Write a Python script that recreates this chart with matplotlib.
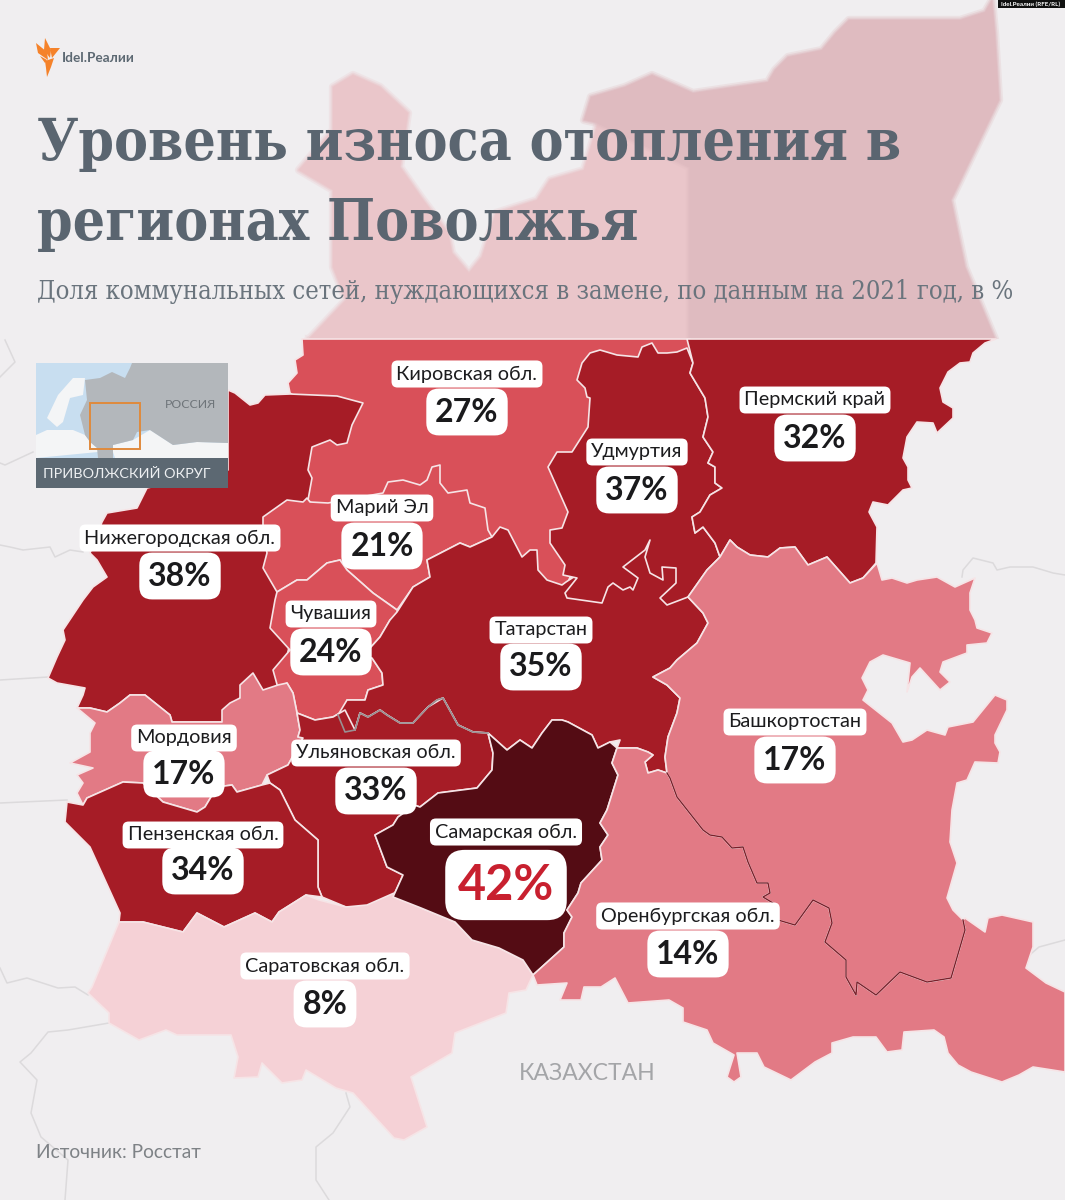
import matplotlib
matplotlib.use("Agg")
import matplotlib.pyplot as plt
from matplotlib.colors import ListedColormap, BoundaryNorm
from matplotlib.patches import Rectangle

# ---------- data ----------
REGION_NAMES = ["Кировская обл.", "Пермский край", "Удмуртия", "Марий Эл", "Нижегородская обл.",
                "Чувашия", "Татарстан", "Мордовия", "Башкортостан", "Ульяновская обл.",
                "Пензенская обл.", "Самарская обл.", "Оренбургская обл.", "Саратовская обл."]
REGION_VALUES = [27, 32, 37, 21, 38, 24, 35, 17, 17, 33, 34, 42, 14, 8]
BIN_EDGES = [0, 10, 20, 30, 40, 50]
BIN_COLORS = ["#F5D1D6", "#E27A85", "#D95059", "#A61C26", "#540C14"]

TITLE_LINES = ["Уровень износа отопления в", "регионах Поволжья"]
SUBTITLE = "Доля коммунальных сетей, нуждающихся в замене, по данным на 2021 год, в %"
SOURCE = "Источник: Росстат"

# ---------- map geometry (outline traced in image pixels) ----------
KIROV = [(302,339),(690,339),(690,400),(600,500),(565,590),(500,590),(400,560),(300,520),(300,400),
         (290,393),(288,383),(297,373),(295,360),(303,355)]
NIZHNY = [(228,390),(235,393),(250,405),(258,403),(265,395),(290,394),(337,396),(363,403),(352,425),
          (347,443),(337,445),(330,440),(312,447),(308,470),(312,478),(308,500),(320,510),(270,560),
          (290,642),(280,690),(263,690),(240,698),(222,722),(172,722),(170,715),(145,695),(130,695),
          (120,703),(107,712),(90,708),(77,708),(83,695),(85,688),(57,683),(48,678),(57,657),(65,640),
          (63,630),(83,600),(93,587),(107,577),(97,560),(90,553),(102,522),(107,513),(137,508),
          (147,488),(228,470)]
MARI = [(263,517),(287,500),(303,502),(307,498),(310,502),(328,503),(383,493),(388,482),(403,480),
        (420,485),(427,480),(432,467),(440,465),(440,483),(448,493),(467,490),(470,503),(485,508),
        (488,530),(492,537),(470,547),(460,543),(427,560),(430,577),(413,587),(397,610),(393,607),
        (373,593),(347,570),(340,560),(327,563),(307,580),(297,580),(277,592),(263,568),(267,553),(263,530)]
CHUVASH = [(277,592),(297,580),(307,580),(327,563),(340,560),(347,570),(373,593),(397,610),(398,615),
           (390,620),(380,637),(362,657),(372,658),(382,673),(383,685),(368,690),(365,700),(347,700),
           (345,710),(333,717),(315,720),(297,713),(293,693),(287,683),(278,688),(273,670),(290,650),
           (270,628),(275,600)]
TATAR = [(397,612),(413,587),(430,577),(427,560),(460,543),(470,547),(492,537),(500,527),(508,530),
         (522,557),(530,550),(537,550),(538,570),(547,580),(562,585),(566,582),(600,560),(640,530),(685,550),
         (688,597),(703,613),(708,623),(697,643),(677,660),(670,668),(653,677),(667,685),(680,698),
         (677,713),(668,737),(665,757),(667,773),(658,770),(648,773),(645,762),(653,755),(648,752),
         (637,748),(617,748),(620,740),(610,742),(598,748),(592,735),(568,722),(562,720),(552,720),
         (542,733),(532,748),(520,740),(507,750),(488,733),(473,732),(458,725),(443,698),(437,700),
         (428,707),(413,723),(400,723),(387,715),(380,710),(368,717),(360,713),(355,730),(345,732),
         (338,715),(347,700),(365,700),(368,690),(383,685),(382,673),(372,658),(362,657),(380,637),(390,620)]
UDMURT = [(687,348),(677,352),(667,353),(658,353),(652,343),(642,347),(638,357),(617,355),(600,350),
          (590,353),(582,363),(577,380),(585,388),(587,397),(590,398),(588,427),(572,452),(557,452),
          (548,467),(568,512),(562,528),(550,530),(550,543),(565,565),(563,575),(577,578),(565,593),
          (567,598),(602,603),(608,587),(613,583),(623,590),(630,587),(633,590),(638,578),(623,567),
          (645,550),(650,540),(645,557),(650,573),(663,580),(662,567),(676,568),(676,583),(660,598),
          (667,605),(688,597),(707,570),(720,557),(715,543),(703,527),(695,533),(692,517),(700,512),
          (710,495),(722,488),(715,483),(715,467),(708,463),(713,452),(703,437),(708,417),(705,398),
          (690,373),(693,363)]
PERM = [(687,339),(996,339),(985,343),(973,353),(970,362),(960,363),(948,372),(940,388),(943,402),
        (953,408),(953,418),(937,433),(933,423),(917,422),(907,437),(903,458),(908,467),(908,480),
        (912,488),(903,490),(888,505),(873,502),(869,512),(877,527),(876,563),(863,578),(850,583),
        (827,557),(808,565),(795,547),(780,548),(768,557),(750,555),(737,547),(730,540),(720,557),
        (715,543),(703,527),(695,533),(692,517),(700,512),(710,495),(722,488),(715,483),(715,467),
        (708,463),(713,452),(703,437),(708,417),(705,398),(690,373),(693,363)]
MORDOVIA = [(77,708),(90,708),(107,712),(120,703),(130,695),(145,695),(170,715),(172,722),(222,722),
            (222,710),(230,703),(240,698),(240,685),(253,673),(263,690),(278,685),(287,683),(293,693),
            (297,713),(300,730),(298,737),(303,738),(288,765),(267,775),(262,785),(237,792),(232,785),
            (217,787),(205,807),(197,812),(163,802),(143,783),(123,782),(87,798),(83,805),(77,793),
            (83,783),(77,775),(93,768),(70,763),(90,752),(90,733),(95,723)]
ULYAN = [(297,713),(315,720),(333,717),(345,710),(355,730),(360,713),(368,717),(380,710),(387,715),
         (400,723),(413,723),(428,707),(443,698),(458,725),(473,732),(488,733),(493,753),(492,770),
         (477,788),(438,793),(420,807),(405,802),(408,810),(398,817),(393,825),(375,835),(387,867),
         (403,875),(393,897),(377,907),(346,907),(322,897),(318,887),(318,840),(295,820),(280,790),
         (270,783),(267,775),(288,765),(303,738),(298,737),(300,730)]
PENZA = [(67,802),(65,822),(90,847),(120,913),(119,922),(143,922),(183,932),(197,913),(224,927),
         (255,913),(272,922),(279,912),(306,895),(322,897),(318,887),(318,840),(295,820),(280,790),
         (270,783),(262,785),(237,792),(232,785),(217,787),(205,807),(197,812),(163,802),(143,783),
         (123,782),(87,798),(83,805)]
SARATOV = [(119,922),(92,987),(88,993),(109,1013),(109,1023),(139,1040),(166,1030),(177,1035),(231,1035),
           (238,1057),(234,1078),(258,1077),(262,1063),(282,1083),(302,1080),(306,1070),(336,1088),
           (353,1093),(394,1138),(404,1140),(427,1127),(411,1077),(452,1053),(455,1033),(506,1013),
           (509,993),(526,990),(533,975),(523,960),(499,948),(472,940),(455,922),(421,908),(401,890),
           (367,905),(346,907),(319,900),(306,895),(279,912),(272,922),(255,913),(224,927),(197,913),
           (183,932),(143,922)]
SAMARA = [(488,733),(507,750),(520,740),(532,748),(542,733),(552,720),(562,720),(568,722),(592,735),
          (598,748),(610,742),(617,748),(612,763),(618,775),(607,810),(600,823),(608,835),(600,847),
          (602,860),(581,883),(578,893),(567,910),(572,917),(564,933),(564,947),(533,975),(523,960),
          (499,948),(472,940),(455,922),(421,908),(393,897),(403,875),(387,867),(375,835),(393,825),
          (398,817),(408,810),(405,802),(420,807),(438,793),(477,788),(492,770),(493,753)]
ORB_BASH_BORDER = [(667,773),(670,778),(677,797),(703,830),(710,835),(722,837),(732,848),(743,847),
                   (748,862),(757,883),(768,883),(770,893),(763,897),(773,903),(778,920),(795,925),
                   (813,900),(829,908),(832,923),(825,942),(846,960),(846,977),(856,995),(857,982),
                   (876,995),(900,972),(927,982),(951,978),(965,930),(963,920)]
ORENBURG_REST = [(965,918),(985,932),(988,918),(1002,915),(1033,922),(1033,947),(1026,968),(1046,983),
                 (1065,992),(1065,1072),(1033,1067),(1019,1075),(1002,1082),(971,1072),(958,1065),
                 (948,1053),(944,1037),(934,1030),(904,1032),(902,1050),(887,1052),(876,1037),(853,1037),
                 (832,1043),(832,1053),(815,1062),(791,1080),(764,1067),(757,1053),(737,1053),(741,1077),
                 (734,1082),(727,1077),(734,1055),(713,1043),(707,1030),(683,1022),(683,1008),(669,1000),
                 (628,1003),(615,978),(601,987),(584,987),(581,1000),(560,1000),(567,983),(537,985),(533,975),
                 (564,947),(564,933),(572,917),(567,910),(578,893),(581,883),(602,860),(600,847),(608,835),
                 (600,823),(607,810),(618,775),(612,763),(617,748),(637,748),(648,752),(653,755),(645,762),
                 (648,773),(658,770)]
BASH_REST = [(953,910),(947,898),(957,863),(950,842),(952,810),(957,783),(967,780),(975,762),(998,763),
             (1000,752),(995,743),(995,735),(1007,710),(1007,700),(995,695),(973,722),(948,727),(945,735),
             (927,730),(912,740),(903,742),(892,723),(863,700),(868,690),(862,678),(870,662),(883,655),
             (910,663),(907,692),(912,677),(920,668),(940,690),(950,682),(940,672),(943,662),(967,653),
             (967,645),(987,643),(992,633),(977,628),(975,620),(970,610),(970,593),(975,578),(955,587),
             (937,577),(917,580),(907,583),(892,578),(882,580),(877,563),(863,578),(850,583),(827,557),
             (808,565),(795,547),(780,548),(768,557),(750,555),(737,547),(730,540),(720,557),(707,570),
             (688,597),(703,613),(708,623),(697,643),(677,660),(670,668),(653,677),(667,685),(680,698),
             (677,713),(668,737),(665,757)]
ORENBURG = ORB_BASH_BORDER + ORENBURG_REST
BASHKIR = ORB_BASH_BORDER + BASH_REST
SHAPES = {"Кировская обл.": KIROV, "Нижегородская обл.": NIZHNY, "Марий Эл": MARI, "Чувашия": CHUVASH,
          "Татарстан": TATAR, "Удмуртия": UDMURT, "Пермский край": PERM, "Мордовия": MORDOVIA,
          "Ульяновская обл.": ULYAN, "Пензенская обл.": PENZA, "Саратовская обл.": SARATOV,
          "Самарская обл.": SAMARA, "Оренбургская обл.": ORENBURG, "Башкортостан": BASHKIR}
DRAW_ORDER = ["Кировская обл.", "Нижегородская обл.", "Марий Эл", "Чувашия", "Татарстан", "Удмуртия",
              "Пермский край", "Мордовия", "Ульяновская обл.", "Пензенская обл.", "Саратовская обл.",
              "Самарская обл.", "Оренбургская обл.", "Башкортостан"]
GRAY_BORDER = [(338,715),(345,732),(355,730),(360,713),(368,717),(380,710),(387,715),(400,723),(413,723),
               (428,707),(437,700),(443,698),(458,725),(473,732),(488,733)]
FADED_KIROV = [(309,339),(346,300),(333,267),(333,190),(299,170),(333,130),(333,87),(353,75),(380,87),
               (408,113),(400,167),(421,197),(448,233),(452,253),(469,273),(482,257),(496,213),(537,200),
               (550,180),(584,170),(598,123),(690,167),(690,339)]
FADED_PERM = [(690,339),(690,167),(598,123),(584,120),(591,97),(625,87),(652,75),(693,93),(768,82),
              (775,70),(788,57),(822,50),(836,33),(849,20),(960,20),(985,12),(992,0),(995,33),(999,100),
              (951,200),(965,267),(995,339)]
BACK_LINES = [
    [(5,340),(15,362),(0,377)], [(0,463),(5,465),(33,452)],
    [(0,545),(10,547),(23,550),(50,547),(55,557),(70,550),(83,552)],
    [(0,680),(48,677)], [(0,803),(67,800)],
    [(0,968),(7,983),(27,978),(58,988),(75,987),(88,995)],
    [(109,1023),(68,1030),(48,1032),(31,1053),(20,1062),(37,1080),(31,1113),(41,1137),(68,1160),(65,1200)],
    [(346,1093),(350,1107),(333,1133),(316,1147),(316,1180),(329,1200)],
    [(1065,940),(1039,947),(1026,958)],
    [(962,577),(963,570),(973,558),(993,563),(997,570),(1010,567),(1033,567),(1053,573),(1065,575)],
]
# inset locator
INSET_RUSSIA = [(85,380),(100,378),(112,372),(125,378),(130,368),(132,363),(228,363),(228,443),(197,442),
                (173,445),(150,430),(137,432),(133,440),(113,445),(113,458),(98,458),(97,448),(90,442),
                (85,435),(80,415),(87,400)]
INSET_SCAND = [(47,418),(58,395),(73,378),(85,378),(83,395),(70,398),(63,422),(57,427)]
INSET_EUROPE = [(36,435),(47,430),(73,430),(85,435),(97,448),(98,452),(36,458)]
INSET_SOUTH = [(97,452),(97,448),(113,445),(133,440),(150,430),(173,445),(197,442),(228,443),(228,458),(115,458),(113,452)]
# logo
LOGO_PARTS = [[(45,38),(51,50),(50,58),(44,50)], [(36,43),(47,52),(48,60),(38,53)],
              [(40,56),(47,60),(45,63)], [(50,48),(60,48),(52,58)],
              [(45,61),(54,58),(51,67),(47,77),(46,68)]]

# ---------- figure ----------
W, H = 1065, 1200
BG = "#F0EEF0"
SANS = ["Lato", "DejaVu Sans"]
plt.rcParams["font.family"] = SANS
fig = plt.figure(figsize=(W/100, H/100), dpi=100, facecolor=BG)
ax = fig.add_axes([0, 0, 1, 1])
ax.set_xlim(0, W); ax.set_ylim(H, 0); ax.axis("off")

cmap = ListedColormap(BIN_COLORS)
norm = BoundaryNorm(BIN_EDGES, cmap.N)
value_of = dict(zip(REGION_NAMES, REGION_VALUES))

for line in BACK_LINES:
    ax.plot(*zip(*line), color="#DCDADC", lw=1.1, zorder=1)

# blurred continuation of the map behind the header
head_clip = Rectangle((0, 0), W, 339, transform=ax.transData)
for poly, col, zo in [(FADED_KIROV, "#EAC6CA", 1.2), (FADED_PERM, "#DFBBC0", 1.3)]:
    xs, ys = zip(*(poly + poly[:1]))
    for lw, a in [(6, 0.25), (3.5, 0.4), (1.5, 0.6)]:
        art, = ax.plot(xs, ys, color=col, lw=lw, alpha=a, zorder=zo, solid_joinstyle="round")
        art.set_clip_path(head_clip)
    ax.fill(xs, ys, color=col, lw=0, zorder=zo + 0.01)

for i, name in enumerate(DRAW_ORDER):
    ax.fill(*zip(*SHAPES[name]), facecolor=cmap(norm(value_of[name])), edgecolor="#F6E4E6",
            lw=1.2, joinstyle="round", zorder=2+i*0.01)
ax.plot(*zip(*ORB_BASH_BORDER), color="#7A1F2A", lw=1.0, zorder=2.5)
ax.plot(*zip(*GRAY_BORDER), color="#9A8F92", lw=1.2, zorder=2.5)

# inset
ax.add_patch(Rectangle((36, 363), 192, 95, facecolor="#C8DEF0", lw=0, zorder=3))
for poly, col in [(INSET_EUROPE, "#F4F5F6"), (INSET_SCAND, "#F4F5F6"), (INSET_SOUTH, "#F4F5F6"), (INSET_RUSSIA, "#B3B7BB")]:
    ax.fill(*zip(*poly), color=col, lw=0, zorder=3.1)
ax.add_patch(Rectangle((90, 403), 50, 46, facecolor="none", edgecolor="#E08A3C", lw=1.4, zorder=3.3))
ax.add_patch(Rectangle((36, 458), 192, 30, facecolor="#5C6872", lw=0, zorder=3.2))
ax.text(191, 404, "РОССИЯ", fontsize=8.8, color="#6E7479", ha="center", va="center", zorder=3.4)
ax.text(43, 474, "ПРИВОЛЖСКИЙ ОКРУГ", fontsize=10.4, color="#EEF0F2", ha="left", va="center", zorder=3.4)

# labels
LABEL_POS = {"Кировская обл.": (467,374,412), "Пермский край": (815,400,438), "Удмуртия": (637,452,490),
             "Марий Эл": (382,508,546), "Нижегородская обл.": (180,538,576), "Чувашия": (331,614,652),
             "Татарстан": (541,630,667), "Мордовия": (184,738,774), "Башкортостан": (795,722,760),
             "Ульяновская обл.": (376,753,791), "Пензенская обл.": (203,835,871), "Самарская обл.": (506,832,885),
             "Оренбургская обл.": (688,916,954), "Саратовская обл.": (325,966,1004)}
for name, val in zip(REGION_NAMES, REGION_VALUES):
    x, y1, y2 = LABEL_POS[name]
    ax.text(x, y1, name, fontsize=14.3, color="#1C1C1E", ha="center", va="center", zorder=5,
            bbox=dict(boxstyle="round,pad=0.25,rounding_size=0.3", fc="white", ec="none"))
    big = val == max(REGION_VALUES)
    ax.text(x, y2, f"{val}%", fontsize=35 if big else 23, fontweight="bold", color="#C8202F" if big else "#1A1A1C",
            ha="center", va="center", zorder=5,
            bbox=dict(boxstyle="round,pad=%s,rounding_size=0.4" % (0.26 if big else 0.28), fc="white", ec="none"))

# header
TITLE_FONT = dict(family="DejaVu Serif", stretch="condensed", fontweight="bold", color="#5A6570")
ax.text(37, 160, TITLE_LINES[0], fontsize=40.9, ha="left", va="baseline", zorder=6, **TITLE_FONT)
ax.text(37, 240, TITLE_LINES[1], fontsize=40.9, ha="left", va="baseline", zorder=6, **TITLE_FONT)
ax.text(37, 299, SUBTITLE, fontsize=18.4, family="DejaVu Serif", stretch="condensed", color="#6A747D", ha="left", va="baseline", zorder=6)
ax.text(36, 1158, SOURCE, fontsize=13.8, color="#7E8286", ha="left", va="baseline", zorder=6)
ax.text(587, 1073, "КАЗАХСТАН", fontsize=16.6, color="#A4A5A8", ha="center", va="center", zorder=6)

# logo and credit
for part in LOGO_PARTS:
    ax.fill(*zip(*part), color="#F5822A", lw=0, zorder=6)
ax.text(62, 58, "Idel.Реалии", fontsize=9.8, fontweight="bold", color="#5C6872", ha="left", va="center", zorder=6)
ax.add_patch(Rectangle((998, 0), 67, 8, facecolor="#111111", lw=0, zorder=6))
ax.text(1031, 4, "Idel.Реалии (RFE/RL)", fontsize=4.5, fontweight="bold", color="white", ha="center", va="center", zorder=6.1)

fig.savefig("out.png", dpi=100, facecolor=BG)
